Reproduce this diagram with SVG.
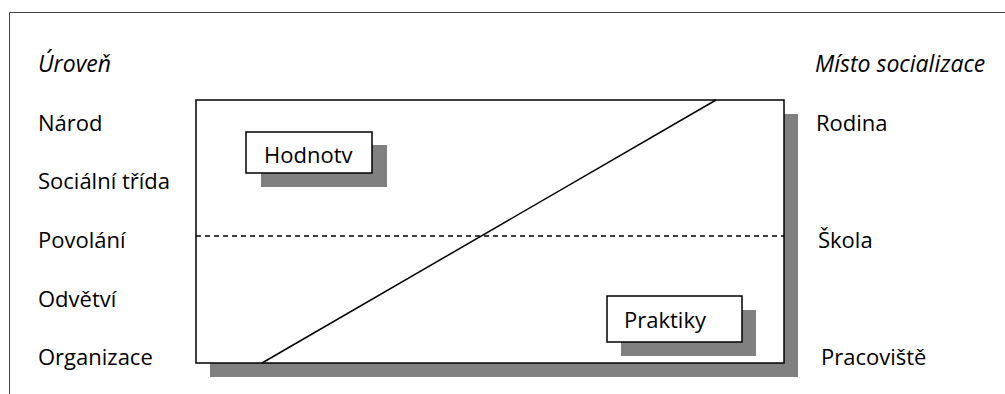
<svg xmlns="http://www.w3.org/2000/svg" width="1005" height="394" viewBox="0 0 1005 394">
<style>
text{font-family:"Open Sans","Liberation Sans",sans-serif;font-size:22px;fill:#000}
.it{font-style:italic;font-size:23px}
.sh{fill:#808080}
.box{fill:#fff;stroke:#000;stroke-width:1.5}
.ln{stroke:#000;stroke-width:1.5;fill:none}
</style>
<rect width="1005" height="394" fill="#fff"/>
<path d="M9.5 394V12.5H1005" fill="none" stroke="#404040" stroke-width="1"/>
<g id="frame">
<rect class="sh" x="210" y="114" width="588" height="263"/>
<rect class="box" x="196" y="100" width="588" height="263"/>
</g>
<g id="connectors">
<line x1="196" y1="236" x2="784" y2="236" stroke="#000" stroke-width="1.3" stroke-dasharray="5,4"/>
<line class="ln" x1="262" y1="363" x2="716" y2="100"/>
</g>
<g id="hodnotv">
<rect class="sh" x="261" y="145" width="126" height="42"/>
<rect class="box" x="246" y="132" width="126" height="41"/>
<text x="264" y="163">Hodnotv</text>
</g>
<g id="praktiky">
<rect class="sh" x="621" y="310" width="135" height="46"/>
<rect class="box" x="607" y="296" width="135" height="46"/>
<text x="624" y="328">Praktiky</text>
</g>
<g id="levels">
<text class="it" x="38" y="72">Úroveň</text>
<text x="38" y="131">Národ</text>
<text x="38" y="189">Sociální třída</text>
<text x="38" y="248">Povolání</text>
<text x="38" y="307">Odvětví</text>
<text x="38" y="365">Organizace</text>
</g>
<g id="places">
<text class="it" x="815" y="72">Místo socializace</text>
<text x="816" y="131">Rodina</text>
<text x="818" y="248">Škola</text>
<text x="821" y="365">Pracoviště</text>
</g>
</svg>
